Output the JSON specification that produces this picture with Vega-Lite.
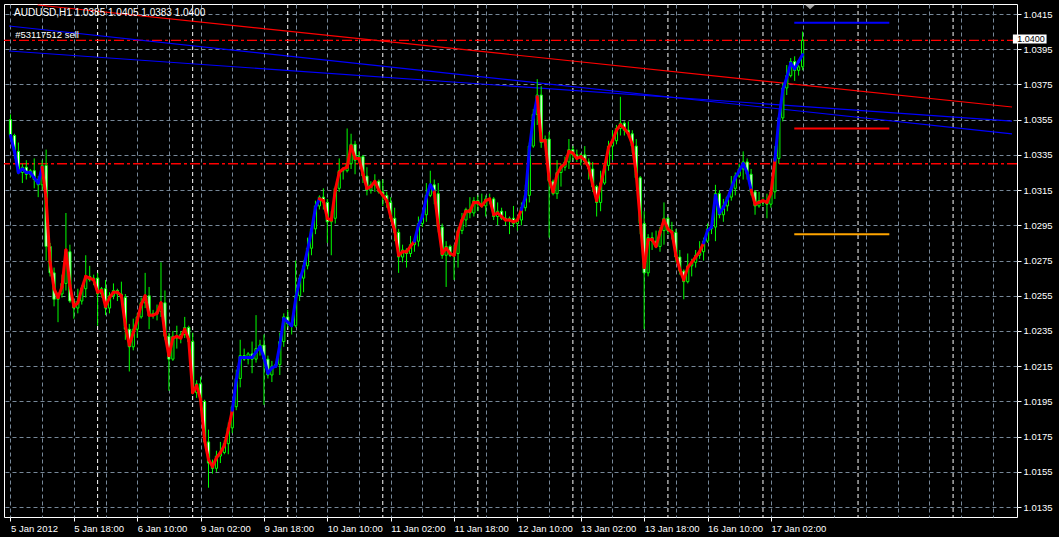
{
"$schema":"https://vega.github.io/schema/vega-lite/v6.json",
"width":1013,"height":513,
"autosize":{"type":"none"},
"padding":{"left":4,"top":4,"right":42,"bottom":20},
"background":"#000000",
"config":{"view":{"stroke":"#ffffff","strokeWidth":1,"fill":"#000000"},"font":"Liberation Sans"},
"datasets":{
"bars":[
{"i":0,"o":1.0355,"h":1.0358,"l":1.0344,"c":1.0346,"m":1.0346,"t":"u"},
{"i":1,"o":1.0346,"h":1.0347,"l":1.0333,"c":1.0337,"m":1.0337,"t":"u"},
{"i":2,"o":1.0337,"h":1.0342,"l":1.0324,"c":1.0325,"m":1.0325,"t":"u"},
{"i":3,"o":1.0325,"h":1.0330,"l":1.0319,"c":1.0328,"m":1.0327,"t":"u"},
{"i":4,"o":1.0328,"h":1.0332,"l":1.0321,"c":1.0324,"m":1.0325,"t":"u"},
{"i":5,"o":1.0324,"h":1.0327,"l":1.0322,"c":1.0326,"m":1.0325,"t":"u"},
{"i":6,"o":1.0326,"h":1.0333,"l":1.0316,"c":1.0321,"m":1.0322,"t":"u"},
{"i":7,"o":1.0321,"h":1.0323,"l":1.0311,"c":1.0318,"m":1.0319,"t":"u"},
{"i":8,"o":1.0318,"h":1.0332,"l":1.0315,"c":1.0329,"m":1.0328,"t":"d"},
{"i":9,"o":1.0329,"h":1.0338,"l":1.0275,"c":1.0283,"m":1.0310,"t":"d"},
{"i":10,"o":1.0283,"h":1.0285,"l":1.0266,"c":1.0268,"m":1.0274,"t":"d"},
{"i":11,"o":1.0268,"h":1.0271,"l":1.0249,"c":1.0253,"m":1.0259,"t":"d"},
{"i":12,"o":1.0253,"h":1.0257,"l":1.0240,"c":1.0256,"m":1.0254,"t":"d"},
{"i":13,"o":1.0256,"h":1.0267,"l":1.0254,"c":1.0262,"m":1.0260,"t":"d"},
{"i":14,"o":1.0262,"h":1.0302,"l":1.0258,"c":1.0280,"m":1.0281,"t":"d"},
{"i":15,"o":1.0280,"h":1.0284,"l":1.0251,"c":1.0252,"m":1.0261,"t":"d"},
{"i":16,"o":1.0252,"h":1.0253,"l":1.0242,"c":1.0248,"m":1.0249,"t":"d"},
{"i":17,"o":1.0248,"h":1.0259,"l":1.0245,"c":1.0252,"m":1.0251,"t":"d"},
{"i":18,"o":1.0252,"h":1.0261,"l":1.0250,"c":1.0259,"m":1.0259,"t":"d"},
{"i":19,"o":1.0259,"h":1.0278,"l":1.0254,"c":1.0266,"m":1.0266,"t":"d"},
{"i":20,"o":1.0266,"h":1.0272,"l":1.0263,"c":1.0264,"m":1.0265,"t":"d"},
{"i":21,"o":1.0264,"h":1.0267,"l":1.0261,"c":1.0265,"m":1.0264,"t":"d"},
{"i":22,"o":1.0265,"h":1.0268,"l":1.0238,"c":1.0256,"m":1.0257,"t":"d"},
{"i":23,"o":1.0256,"h":1.0260,"l":1.0254,"c":1.0259,"m":1.0258,"t":"d"},
{"i":24,"o":1.0259,"h":1.0264,"l":1.0244,"c":1.0248,"m":1.0249,"t":"d"},
{"i":25,"o":1.0248,"h":1.0257,"l":1.0245,"c":1.0255,"m":1.0254,"t":"d"},
{"i":26,"o":1.0255,"h":1.0262,"l":1.0253,"c":1.0258,"m":1.0257,"t":"d"},
{"i":27,"o":1.0258,"h":1.0259,"l":1.0252,"c":1.0256,"m":1.0257,"t":"d"},
{"i":28,"o":1.0256,"h":1.0263,"l":1.0253,"c":1.0254,"m":1.0255,"t":"d"},
{"i":29,"o":1.0254,"h":1.0256,"l":1.0230,"c":1.0236,"m":1.0238,"t":"d"},
{"i":30,"o":1.0236,"h":1.0239,"l":1.0212,"c":1.0226,"m":1.0227,"t":"d"},
{"i":31,"o":1.0226,"h":1.0242,"l":1.0224,"c":1.0236,"m":1.0234,"t":"d"},
{"i":32,"o":1.0236,"h":1.0245,"l":1.0231,"c":1.0243,"m":1.0241,"t":"d"},
{"i":33,"o":1.0243,"h":1.0254,"l":1.0242,"c":1.0251,"m":1.0250,"t":"d"},
{"i":34,"o":1.0251,"h":1.0268,"l":1.0248,"c":1.0255,"m":1.0255,"t":"d"},
{"i":35,"o":1.0255,"h":1.0260,"l":1.0236,"c":1.0244,"m":1.0244,"t":"d"},
{"i":36,"o":1.0244,"h":1.0247,"l":1.0242,"c":1.0245,"m":1.0244,"t":"d"},
{"i":37,"o":1.0245,"h":1.0250,"l":1.0241,"c":1.0246,"m":1.0245,"t":"d"},
{"i":38,"o":1.0246,"h":1.0274,"l":1.0243,"c":1.0251,"m":1.0251,"t":"d"},
{"i":39,"o":1.0251,"h":1.0258,"l":1.0230,"c":1.0232,"m":1.0233,"t":"d"},
{"i":40,"o":1.0232,"h":1.0234,"l":1.0201,"c":1.0219,"m":1.0221,"t":"d"},
{"i":41,"o":1.0219,"h":1.0235,"l":1.0218,"c":1.0232,"m":1.0231,"t":"d"},
{"i":42,"o":1.0232,"h":1.0238,"l":1.0225,"c":1.0231,"m":1.0232,"t":"d"},
{"i":43,"o":1.0231,"h":1.0235,"l":1.0228,"c":1.0233,"m":1.0231,"t":"d"},
{"i":44,"o":1.0233,"h":1.0243,"l":1.0231,"c":1.0237,"m":1.0236,"t":"d"},
{"i":45,"o":1.0237,"h":1.0238,"l":1.0224,"c":1.0229,"m":1.0230,"t":"d"},
{"i":46,"o":1.0229,"h":1.0234,"l":1.0199,"c":1.0200,"m":1.0200,"t":"d"},
{"i":47,"o":1.0200,"h":1.0207,"l":1.0197,"c":1.0205,"m":1.0204,"t":"d"},
{"i":48,"o":1.0205,"h":1.0209,"l":1.0190,"c":1.0195,"m":1.0196,"t":"d"},
{"i":49,"o":1.0195,"h":1.0196,"l":1.0170,"c":1.0172,"m":1.0173,"t":"d"},
{"i":50,"o":1.0172,"h":1.0179,"l":1.0146,"c":1.0160,"m":1.0162,"t":"d"},
{"i":51,"o":1.0160,"h":1.0162,"l":1.0154,"c":1.0157,"m":1.0158,"t":"d"},
{"i":52,"o":1.0157,"h":1.0167,"l":1.0155,"c":1.0164,"m":1.0163,"t":"d"},
{"i":53,"o":1.0164,"h":1.0172,"l":1.0160,"c":1.0166,"m":1.0166,"t":"d"},
{"i":54,"o":1.0166,"h":1.0173,"l":1.0165,"c":1.0171,"m":1.0170,"t":"d"},
{"i":55,"o":1.0171,"h":1.0183,"l":1.0165,"c":1.0180,"m":1.0179,"t":"d"},
{"i":56,"o":1.0180,"h":1.0193,"l":1.0177,"c":1.0192,"m":1.0190,"t":"u"},
{"i":57,"o":1.0192,"h":1.0213,"l":1.0190,"c":1.0208,"m":1.0207,"t":"u"},
{"i":58,"o":1.0208,"h":1.0230,"l":1.0203,"c":1.0221,"m":1.0220,"t":"u"},
{"i":59,"o":1.0221,"h":1.0225,"l":1.0218,"c":1.0219,"m":1.0220,"t":"u"},
{"i":60,"o":1.0219,"h":1.0223,"l":1.0216,"c":1.0222,"m":1.0220,"t":"u"},
{"i":61,"o":1.0222,"h":1.0229,"l":1.0211,"c":1.0219,"m":1.0220,"t":"u"},
{"i":62,"o":1.0219,"h":1.0244,"l":1.0217,"c":1.0225,"m":1.0223,"t":"u"},
{"i":63,"o":1.0225,"h":1.0230,"l":1.0221,"c":1.0227,"m":1.0226,"t":"u"},
{"i":64,"o":1.0227,"h":1.0233,"l":1.0193,"c":1.0219,"m":1.0220,"t":"u"},
{"i":65,"o":1.0219,"h":1.0221,"l":1.0208,"c":1.0210,"m":1.0211,"t":"u"},
{"i":66,"o":1.0210,"h":1.0218,"l":1.0206,"c":1.0215,"m":1.0214,"t":"u"},
{"i":67,"o":1.0215,"h":1.0217,"l":1.0214,"c":1.0216,"m":1.0215,"t":"u"},
{"i":68,"o":1.0216,"h":1.0234,"l":1.0210,"c":1.0229,"m":1.0227,"t":"u"},
{"i":69,"o":1.0229,"h":1.0245,"l":1.0226,"c":1.0243,"m":1.0242,"t":"u"},
{"i":70,"o":1.0243,"h":1.0247,"l":1.0237,"c":1.0239,"m":1.0240,"t":"u"},
{"i":71,"o":1.0239,"h":1.0240,"l":1.0233,"c":1.0238,"m":1.0238,"t":"u"},
{"i":72,"o":1.0238,"h":1.0275,"l":1.0237,"c":1.0255,"m":1.0253,"t":"u"},
{"i":73,"o":1.0255,"h":1.0267,"l":1.0252,"c":1.0265,"m":1.0264,"t":"u"},
{"i":74,"o":1.0265,"h":1.0275,"l":1.0257,"c":1.0272,"m":1.0271,"t":"u"},
{"i":75,"o":1.0272,"h":1.0288,"l":1.0270,"c":1.0282,"m":1.0281,"t":"u"},
{"i":76,"o":1.0282,"h":1.0295,"l":1.0278,"c":1.0293,"m":1.0292,"t":"u"},
{"i":77,"o":1.0293,"h":1.0309,"l":1.0290,"c":1.0306,"m":1.0305,"t":"u"},
{"i":78,"o":1.0306,"h":1.0312,"l":1.0304,"c":1.0311,"m":1.0310,"t":"d"},
{"i":79,"o":1.0311,"h":1.0316,"l":1.0304,"c":1.0308,"m":1.0309,"t":"d"},
{"i":80,"o":1.0308,"h":1.0310,"l":1.0285,"c":1.0297,"m":1.0299,"t":"d"},
{"i":81,"o":1.0297,"h":1.0303,"l":1.0278,"c":1.0299,"m":1.0298,"t":"d"},
{"i":82,"o":1.0299,"h":1.0317,"l":1.0296,"c":1.0316,"m":1.0315,"t":"d"},
{"i":83,"o":1.0316,"h":1.0333,"l":1.0314,"c":1.0326,"m":1.0325,"t":"d"},
{"i":84,"o":1.0326,"h":1.0328,"l":1.0321,"c":1.0326,"m":1.0327,"t":"d"},
{"i":85,"o":1.0326,"h":1.0350,"l":1.0325,"c":1.0330,"m":1.0328,"t":"d"},
{"i":86,"o":1.0330,"h":1.0347,"l":1.0327,"c":1.0341,"m":1.0340,"t":"d"},
{"i":87,"o":1.0341,"h":1.0343,"l":1.0324,"c":1.0332,"m":1.0333,"t":"d"},
{"i":88,"o":1.0332,"h":1.0337,"l":1.0330,"c":1.0334,"m":1.0333,"t":"d"},
{"i":89,"o":1.0334,"h":1.0335,"l":1.0319,"c":1.0323,"m":1.0324,"t":"d"},
{"i":90,"o":1.0323,"h":1.0328,"l":1.0312,"c":1.0315,"m":1.0316,"t":"d"},
{"i":91,"o":1.0315,"h":1.0320,"l":1.0313,"c":1.0318,"m":1.0317,"t":"d"},
{"i":92,"o":1.0318,"h":1.0324,"l":1.0314,"c":1.0320,"m":1.0320,"t":"d"},
{"i":93,"o":1.0320,"h":1.0321,"l":1.0313,"c":1.0314,"m":1.0315,"t":"d"},
{"i":94,"o":1.0314,"h":1.0321,"l":1.0306,"c":1.0312,"m":1.0312,"t":"d"},
{"i":95,"o":1.0312,"h":1.0314,"l":1.0305,"c":1.0308,"m":1.0309,"t":"d"},
{"i":96,"o":1.0308,"h":1.0311,"l":1.0297,"c":1.0299,"m":1.0300,"t":"d"},
{"i":97,"o":1.0299,"h":1.0305,"l":1.0286,"c":1.0291,"m":1.0292,"t":"d"},
{"i":98,"o":1.0291,"h":1.0293,"l":1.0268,"c":1.0277,"m":1.0278,"t":"d"},
{"i":99,"o":1.0277,"h":1.0284,"l":1.0274,"c":1.0281,"m":1.0280,"t":"d"},
{"i":100,"o":1.0281,"h":1.0282,"l":1.0271,"c":1.0279,"m":1.0280,"t":"d"},
{"i":101,"o":1.0279,"h":1.0289,"l":1.0277,"c":1.0284,"m":1.0283,"t":"d"},
{"i":102,"o":1.0284,"h":1.0288,"l":1.0280,"c":1.0286,"m":1.0286,"t":"u"},
{"i":103,"o":1.0286,"h":1.0300,"l":1.0283,"c":1.0296,"m":1.0295,"t":"u"},
{"i":104,"o":1.0296,"h":1.0302,"l":1.0294,"c":1.0301,"m":1.0300,"t":"u"},
{"i":105,"o":1.0301,"h":1.0319,"l":1.0297,"c":1.0312,"m":1.0311,"t":"u"},
{"i":106,"o":1.0312,"h":1.0326,"l":1.0311,"c":1.0318,"m":1.0318,"t":"u"},
{"i":107,"o":1.0318,"h":1.0321,"l":1.0307,"c":1.0313,"m":1.0314,"t":"d"},
{"i":108,"o":1.0313,"h":1.0319,"l":1.0291,"c":1.0294,"m":1.0295,"t":"d"},
{"i":109,"o":1.0294,"h":1.0296,"l":1.0276,"c":1.0278,"m":1.0279,"t":"d"},
{"i":110,"o":1.0278,"h":1.0286,"l":1.0260,"c":1.0283,"m":1.0282,"t":"d"},
{"i":111,"o":1.0283,"h":1.0284,"l":1.0277,"c":1.0278,"m":1.0279,"t":"d"},
{"i":112,"o":1.0278,"h":1.0284,"l":1.0264,"c":1.0279,"m":1.0278,"t":"d"},
{"i":113,"o":1.0279,"h":1.0294,"l":1.0271,"c":1.0292,"m":1.0291,"t":"d"},
{"i":114,"o":1.0292,"h":1.0302,"l":1.0290,"c":1.0298,"m":1.0298,"t":"d"},
{"i":115,"o":1.0298,"h":1.0305,"l":1.0294,"c":1.0304,"m":1.0303,"t":"d"},
{"i":116,"o":1.0304,"h":1.0311,"l":1.0299,"c":1.0302,"m":1.0303,"t":"d"},
{"i":117,"o":1.0302,"h":1.0311,"l":1.0300,"c":1.0309,"m":1.0308,"t":"d"},
{"i":118,"o":1.0309,"h":1.0312,"l":1.0303,"c":1.0307,"m":1.0308,"t":"d"},
{"i":119,"o":1.0307,"h":1.0313,"l":1.0305,"c":1.0306,"m":1.0306,"t":"d"},
{"i":120,"o":1.0306,"h":1.0312,"l":1.0300,"c":1.0310,"m":1.0309,"t":"d"},
{"i":121,"o":1.0310,"h":1.0313,"l":1.0307,"c":1.0310,"m":1.0310,"t":"d"},
{"i":122,"o":1.0310,"h":1.0311,"l":1.0298,"c":1.0300,"m":1.0301,"t":"d"},
{"i":123,"o":1.0300,"h":1.0308,"l":1.0295,"c":1.0303,"m":1.0302,"t":"d"},
{"i":124,"o":1.0303,"h":1.0305,"l":1.0298,"c":1.0299,"m":1.0300,"t":"d"},
{"i":125,"o":1.0299,"h":1.0303,"l":1.0295,"c":1.0298,"m":1.0298,"t":"d"},
{"i":126,"o":1.0298,"h":1.0300,"l":1.0290,"c":1.0299,"m":1.0298,"t":"d"},
{"i":127,"o":1.0299,"h":1.0306,"l":1.0294,"c":1.0296,"m":1.0297,"t":"d"},
{"i":128,"o":1.0296,"h":1.0300,"l":1.0292,"c":1.0298,"m":1.0298,"t":"d"},
{"i":129,"o":1.0298,"h":1.0308,"l":1.0295,"c":1.0305,"m":1.0304,"t":"u"},
{"i":130,"o":1.0305,"h":1.0318,"l":1.0303,"c":1.0312,"m":1.0311,"t":"u"},
{"i":131,"o":1.0312,"h":1.0342,"l":1.0308,"c":1.0340,"m":1.0338,"t":"u"},
{"i":132,"o":1.0340,"h":1.0361,"l":1.0339,"c":1.0358,"m":1.0356,"t":"u"},
{"i":133,"o":1.0358,"h":1.0378,"l":1.0352,"c":1.0369,"m":1.0368,"t":"d"},
{"i":134,"o":1.0369,"h":1.0374,"l":1.0339,"c":1.0342,"m":1.0343,"t":"d"},
{"i":135,"o":1.0342,"h":1.0346,"l":1.0340,"c":1.0344,"m":1.0343,"t":"d"},
{"i":136,"o":1.0344,"h":1.0348,"l":1.0288,"c":1.0320,"m":1.0321,"t":"d"},
{"i":137,"o":1.0320,"h":1.0321,"l":1.0312,"c":1.0313,"m":1.0314,"t":"d"},
{"i":138,"o":1.0313,"h":1.0332,"l":1.0310,"c":1.0325,"m":1.0324,"t":"d"},
{"i":139,"o":1.0325,"h":1.0330,"l":1.0317,"c":1.0328,"m":1.0328,"t":"d"},
{"i":140,"o":1.0328,"h":1.0334,"l":1.0326,"c":1.0331,"m":1.0330,"t":"d"},
{"i":141,"o":1.0331,"h":1.0344,"l":1.0327,"c":1.0338,"m":1.0337,"t":"d"},
{"i":142,"o":1.0338,"h":1.0340,"l":1.0332,"c":1.0335,"m":1.0336,"t":"d"},
{"i":143,"o":1.0335,"h":1.0338,"l":1.0331,"c":1.0333,"m":1.0333,"t":"d"},
{"i":144,"o":1.0333,"h":1.0336,"l":1.0329,"c":1.0335,"m":1.0334,"t":"d"},
{"i":145,"o":1.0335,"h":1.0340,"l":1.0330,"c":1.0331,"m":1.0332,"t":"d"},
{"i":146,"o":1.0331,"h":1.0333,"l":1.0321,"c":1.0327,"m":1.0328,"t":"d"},
{"i":147,"o":1.0327,"h":1.0331,"l":1.0314,"c":1.0317,"m":1.0318,"t":"d"},
{"i":148,"o":1.0317,"h":1.0318,"l":1.0300,"c":1.0308,"m":1.0309,"t":"d"},
{"i":149,"o":1.0308,"h":1.0326,"l":1.0303,"c":1.0319,"m":1.0318,"t":"d"},
{"i":150,"o":1.0319,"h":1.0331,"l":1.0318,"c":1.0329,"m":1.0328,"t":"d"},
{"i":151,"o":1.0329,"h":1.0343,"l":1.0326,"c":1.0340,"m":1.0339,"t":"d"},
{"i":152,"o":1.0340,"h":1.0349,"l":1.0332,"c":1.0343,"m":1.0343,"t":"d"},
{"i":153,"o":1.0343,"h":1.0352,"l":1.0341,"c":1.0350,"m":1.0349,"t":"d"},
{"i":154,"o":1.0350,"h":1.0368,"l":1.0346,"c":1.0353,"m":1.0352,"t":"d"},
{"i":155,"o":1.0353,"h":1.0354,"l":1.0346,"c":1.0349,"m":1.0350,"t":"d"},
{"i":156,"o":1.0349,"h":1.0354,"l":1.0345,"c":1.0347,"m":1.0347,"t":"d"},
{"i":157,"o":1.0347,"h":1.0349,"l":1.0336,"c":1.0340,"m":1.0341,"t":"d"},
{"i":158,"o":1.0340,"h":1.0344,"l":1.0321,"c":1.0322,"m":1.0324,"t":"d"},
{"i":159,"o":1.0322,"h":1.0323,"l":1.0290,"c":1.0296,"m":1.0298,"t":"d"},
{"i":160,"o":1.0296,"h":1.0303,"l":1.0236,"c":1.0268,"m":1.0271,"t":"d"},
{"i":161,"o":1.0268,"h":1.0290,"l":1.0266,"c":1.0288,"m":1.0287,"t":"d"},
{"i":162,"o":1.0288,"h":1.0291,"l":1.0281,"c":1.0286,"m":1.0287,"t":"d"},
{"i":163,"o":1.0286,"h":1.0292,"l":1.0282,"c":1.0283,"m":1.0283,"t":"d"},
{"i":164,"o":1.0283,"h":1.0294,"l":1.0280,"c":1.0292,"m":1.0291,"t":"d"},
{"i":165,"o":1.0292,"h":1.0308,"l":1.0284,"c":1.0299,"m":1.0298,"t":"d"},
{"i":166,"o":1.0299,"h":1.0300,"l":1.0290,"c":1.0292,"m":1.0293,"t":"d"},
{"i":167,"o":1.0292,"h":1.0297,"l":1.0287,"c":1.0291,"m":1.0291,"t":"d"},
{"i":168,"o":1.0291,"h":1.0293,"l":1.0274,"c":1.0277,"m":1.0278,"t":"d"},
{"i":169,"o":1.0277,"h":1.0281,"l":1.0267,"c":1.0269,"m":1.0270,"t":"d"},
{"i":170,"o":1.0269,"h":1.0270,"l":1.0253,"c":1.0263,"m":1.0264,"t":"d"},
{"i":171,"o":1.0263,"h":1.0279,"l":1.0262,"c":1.0272,"m":1.0271,"t":"d"},
{"i":172,"o":1.0272,"h":1.0276,"l":1.0266,"c":1.0274,"m":1.0274,"t":"d"},
{"i":173,"o":1.0274,"h":1.0281,"l":1.0271,"c":1.0278,"m":1.0277,"t":"d"},
{"i":174,"o":1.0278,"h":1.0286,"l":1.0276,"c":1.0280,"m":1.0280,"t":"d"},
{"i":175,"o":1.0280,"h":1.0288,"l":1.0275,"c":1.0286,"m":1.0285,"t":"u"},
{"i":176,"o":1.0286,"h":1.0296,"l":1.0285,"c":1.0293,"m":1.0292,"t":"u"},
{"i":177,"o":1.0293,"h":1.0295,"l":1.0290,"c":1.0294,"m":1.0294,"t":"u"},
{"i":178,"o":1.0294,"h":1.0318,"l":1.0286,"c":1.0313,"m":1.0312,"t":"u"},
{"i":179,"o":1.0313,"h":1.0315,"l":1.0299,"c":1.0301,"m":1.0302,"t":"u"},
{"i":180,"o":1.0301,"h":1.0310,"l":1.0297,"c":1.0306,"m":1.0305,"t":"u"},
{"i":181,"o":1.0306,"h":1.0312,"l":1.0303,"c":1.0311,"m":1.0310,"t":"u"},
{"i":182,"o":1.0311,"h":1.0323,"l":1.0309,"c":1.0316,"m":1.0316,"t":"u"},
{"i":183,"o":1.0316,"h":1.0325,"l":1.0312,"c":1.0323,"m":1.0322,"t":"u"},
{"i":184,"o":1.0323,"h":1.0330,"l":1.0322,"c":1.0327,"m":1.0326,"t":"u"},
{"i":185,"o":1.0327,"h":1.0337,"l":1.0321,"c":1.0331,"m":1.0330,"t":"u"},
{"i":186,"o":1.0331,"h":1.0333,"l":1.0321,"c":1.0324,"m":1.0325,"t":"u"},
{"i":187,"o":1.0324,"h":1.0327,"l":1.0312,"c":1.0314,"m":1.0315,"t":"d"},
{"i":188,"o":1.0314,"h":1.0315,"l":1.0301,"c":1.0306,"m":1.0307,"t":"d"},
{"i":189,"o":1.0306,"h":1.0314,"l":1.0305,"c":1.0309,"m":1.0308,"t":"d"},
{"i":190,"o":1.0309,"h":1.0311,"l":1.0306,"c":1.0309,"m":1.0309,"t":"d"},
{"i":191,"o":1.0309,"h":1.0313,"l":1.0299,"c":1.0307,"m":1.0308,"t":"d"},
{"i":192,"o":1.0307,"h":1.0315,"l":1.0305,"c":1.0314,"m":1.0313,"t":"d"},
{"i":193,"o":1.0314,"h":1.0340,"l":1.0310,"c":1.0333,"m":1.0332,"t":"u"},
{"i":194,"o":1.0333,"h":1.0358,"l":1.0330,"c":1.0356,"m":1.0355,"t":"u"},
{"i":195,"o":1.0356,"h":1.0376,"l":1.0354,"c":1.0373,"m":1.0372,"t":"u"},
{"i":196,"o":1.0373,"h":1.0386,"l":1.0369,"c":1.0380,"m":1.0379,"t":"u"},
{"i":197,"o":1.0380,"h":1.0390,"l":1.0379,"c":1.0388,"m":1.0387,"t":"u"},
{"i":198,"o":1.0388,"h":1.0391,"l":1.0377,"c":1.0383,"m":1.0384,"t":"u"},
{"i":199,"o":1.0383,"h":1.0386,"l":1.0380,"c":1.0385,"m":1.0388,"t":"u"},
{"i":200,"o":1.0385,"h":1.0405,"l":1.0383,"c":1.0400,"m":1.0392,"t":"u"}
],
"seps":[{"i":22},{"i":46},{"i":70},{"i":94},{"i":118},{"i":142},{"i":166},{"i":190},{"i":214},{"i":238}],
"hlines":[{"p":1.0400},{"p":1.0330}],
"trend":[
{"a":6.875,"pa":1.04201,"b":252.875,"pb":1.03622,"col":"#ff0000"},
{"a":-0.375,"pa":1.04082,"b":252.875,"pb":1.03469,"col":"#0000ff"},
{"a":-0.375,"pa":1.03940,"b":252.875,"pb":1.03542,"col":"#0000ff"}
],
"levels":[
{"a":197.9,"b":221.9,"p":1.0410,"col":"#0000ff"},
{"a":197.9,"b":221.9,"p":1.0350,"col":"#ff0000"},
{"a":197.9,"b":221.9,"p":1.0290,"col":"#ffa500"}
],
"one":[{"k":1}]
},
"encoding":{
"x":{"type":"quantitative","scale":{"domain":[-0.375,252.875],"nice":false,"zero":false},
"axis":{"orient":"bottom","values":[0,8,16,24,32,40,48,56,64,72,80,88,96,104,112,120,128,136,144,152,160,168,176,184,192,200,208,216,224,232,240,248],
"grid":true,"gridColor":"#778899","gridDash":[4,3],"gridOpacity":1,"gridWidth":1,
"domain":false,"ticks":true,"tickSize":4,"tickWidth":1,
"tickColor":{"condition":{"test":"datum.value % 16 === 0 && datum.value <= 192","value":"#ffffff"},"value":"rgba(0,0,0,0)"},
"labelExpr":"datum.value % 16 === 0 && datum.value <= 192 ? ['5 Jan 2012','5 Jan 18:00','6 Jan 10:00','9 Jan 02:00','9 Jan 18:00','10 Jan 10:00','11 Jan 02:00','11 Jan 18:00','12 Jan 10:00','13 Jan 02:00','13 Jan 18:00','16 Jan 10:00','17 Jan 02:00'][datum.value / 16] : ''",
"labelColor":"#ffffff","labelFont":"Liberation Sans","labelFontSize":9.5,"labelAlign":"left","labelBaseline":"top","labelPadding":2,"labelOverlap":false,"labelFlush":false,"labelBound":false,"title":null}},
"y":{"type":"quantitative","scale":{"domain":[1.012937,1.042068],"nice":false,"zero":false},
"axis":{"orient":"right","values":[1.0135,1.0155,1.0175,1.0195,1.0215,1.0235,1.0255,1.0275,1.0295,1.0315,1.0335,1.0355,1.0375,1.0395,1.0415],
"format":".4f","grid":true,"gridColor":"#778899","gridDash":[4,3],"gridOpacity":1,"domain":false,
"ticks":true,"tickColor":"#ffffff","tickSize":4,"labelColor":"#ffffff","labelFont":"Liberation Sans","labelFontSize":9.5,"labelPadding":2,"labelOverlap":false,"labelFlush":false,"title":null}}
},
"layer":[
{
"data":{"name":"seps"},
"mark":{"type":"rule","color":"#ffffff","strokeDash":[4,3],"strokeWidth":1},
"encoding":{"x":{"field":"i"},"y":null}
},
{
"data":{"name":"hlines"},
"mark":{"type":"rule","color":"#ff0000","strokeDash":[10,3,3,3],"strokeWidth":1.4},
"encoding":{"y":{"field":"p"},"x":null}
},
{
"data":{"name":"trend"},
"mark":{"type":"rule","strokeWidth":1.2},
"encoding":{
"x":{"field":"a"},
"x2":{"field":"b"},
"y":{"field":"pa"},
"y2":{"field":"pb"},
"color":{"field":"col","type":"nominal","scale":null,"legend":null}
}
},
{
"data":{"name":"bars"},
"mark":{"type":"rule","color":"#00ff00","strokeWidth":1},
"encoding":{
"x":{"field":"i"},
"y":{"field":"l"},
"y2":{"field":"h"}
}
},
{
"data":{"name":"bars"},
"mark":{"type":"bar","size":2.2,"stroke":"#00ff00","strokeWidth":1},
"encoding":{
"x":{"field":"i"},
"y":{"field":"o"},
"y2":{"field":"c"},
"fill":{"condition":{"test":"datum.c < datum.o","value":"#ffffff"},"value":"#000000"}
}
},
{
"data":{"name":"bars"},
"transform":[
{"window":[{"op":"lead","field":"m","as":"mn"},{"op":"lead","field":"i","as":"inext"}],"sort":[{"field":"i","order":"ascending"}]},
{"filter":"datum.mn != null"}
],
"mark":{"type":"rule","strokeWidth":3,"strokeCap":"round"},
"encoding":{
"x":{"field":"i"},
"x2":{"field":"inext"},
"y":{"field":"m"},
"y2":{"field":"mn"},
"color":{"field":"t","type":"nominal","scale":{"domain":["u","d"],"range":["#0000ff","#ff0000"]},"legend":null}
}
},
{
"data":{"name":"levels"},
"mark":{"type":"rule","strokeWidth":2},
"encoding":{
"x":{"field":"a"},
"x2":{"field":"b"},
"y":{"field":"p"},
"color":{"field":"col","type":"nominal","scale":null,"legend":null}
}
},
{
"data":{"name":"one"},
"mark":{"type":"point","shape":"M-1,-0.45L1,-0.45L0,0.45Z","size":100,"filled":true,"color":"#a0a0a0","opacity":1},
"encoding":{"x":{"datum":201.9},"y":{"datum":1.04190}}
},
{
"data":{"name":"one"},
"mark":{"type":"text","text":"AUDUSD,H1  1.0385 1.0405 1.0383 1.0400","color":"#ffffff","font":"Liberation Sans","fontSize":10,"align":"left","baseline":"alphabetic"},
"encoding":{"x":{"datum":0.9},"y":{"datum":1.04139}}
},
{
"data":{"name":"one"},
"mark":{"type":"text","text":"#53117512 sell","color":"#ffffff","font":"Liberation Sans","fontSize":9.5,"align":"left","baseline":"alphabetic"},
"encoding":{"x":{"datum":1.2},"y":{"datum":1.04015}}
},
{
"data":{"name":"one"},
"mark":{"type":"rect","color":"#ffffff","clip":false},
"encoding":{"x":{"datum":253.1},"x2":{"datum":261.6},"y":{"datum":1.04033},"y2":{"datum":1.03982}}
},
{
"data":{"name":"one"},
"mark":{"type":"text","text":"1.0400","color":"#000000","font":"Liberation Sans","fontSize":9,"align":"left","baseline":"middle","clip":false},
"encoding":{"x":{"datum":254.2},"y":{"datum":1.04008}}
}
]
}
